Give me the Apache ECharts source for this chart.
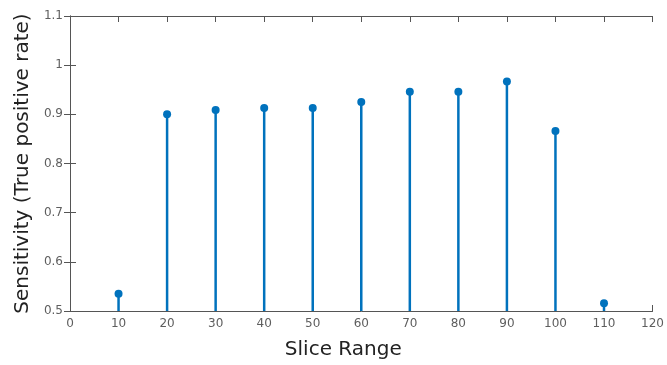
<!DOCTYPE html>
<html>
<head>
<meta charset="utf-8">
<title>Sensitivity vs slice range</title>
<script src="https://cdn.jsdelivr.net/npm/echarts@6/dist/echarts.min.js"></script>
<style>
  html, body { margin: 0; padding: 0; background: #fff; }
  #main { width: 667px; height: 365px; }
</style>
</head>
<body>
<div id="main"></div>
<script>
// stem data
var sliceRange = [10, 20, 30, 40, 50, 60, 70, 80, 90, 100, 110];
var sensitivity = [0.535, 0.900, 0.909, 0.913, 0.913, 0.925, 0.946, 0.946, 0.967, 0.866, 0.516];
var yBase = 0.5;

var stemColor = '#0072BD';
var axisGray = '#555555';
var labelGray = '#5e5e5e';
var font = 'DejaVu Sans';

var points = sliceRange.map(function (x, i) { return [x, sensitivity[i]]; });

var chart = echarts.init(document.getElementById('main'));

var tick = { show: true, inside: true, length: 6, lineStyle: { color: axisGray } };

chart.setOption({
    animation: false,
    grid: { left: 70, right: 14, top: 16, bottom: 52 },
    xAxis: [{
        type: 'value', min: 0, max: 120, interval: 10,
        name: 'Slice Range', nameLocation: 'middle', nameGap: 29,
        nameTextStyle: { fontFamily: font, fontSize: 20, color: '#222', padding: [0, 36, 0, 0] },
        axisLine: { show: true, lineStyle: { color: axisGray, width: 1 } },
        axisTick: tick,
        axisLabel: { fontFamily: font, fontSize: 12, color: labelGray, margin: 7 },
        splitLine: { show: false }
    }, {
        type: 'value', position: 'top', min: 0, max: 120, interval: 10,
        axisLine: { show: true, lineStyle: { color: axisGray, width: 1 } },
        axisTick: tick, axisLabel: { show: false }, splitLine: { show: false }
    }],
    yAxis: [{
        type: 'value', min: 0.5, max: 1.1, interval: 0.1,
        name: 'Sensitivity (True positive rate)', nameLocation: 'middle', nameGap: 31,
        nameTextStyle: { fontFamily: font, fontSize: 20, color: '#222' },
        axisLine: { show: true, lineStyle: { color: axisGray, width: 1 } },
        axisTick: tick,
        axisLabel: { fontFamily: font, fontSize: 12, color: labelGray, margin: 7,
            formatter: function (v) { return String(Math.round(v * 10) / 10); } },
        splitLine: { show: false }
    }, {
        type: 'value', position: 'right', min: 0.5, max: 1.1, interval: 0.1,
        axisLine: { show: true, lineStyle: { color: axisGray, width: 1 } },
        axisTick: tick, axisLabel: { show: false }, splitLine: { show: false }
    }],
    series: [{
        type: 'custom',
        data: points,
        renderItem: function (params, api) {
            var top = api.coord([api.value(0), api.value(1)]);
            var bot = api.coord([api.value(0), yBase]);
            return {
                type: 'line',
                shape: { x1: top[0], y1: top[1], x2: bot[0], y2: bot[1] },
                style: { stroke: stemColor, lineWidth: 2.5 }
            };
        },
        z: 2
    }, {
        type: 'scatter',
        data: points,
        symbol: 'circle',
        symbolSize: 8,
        itemStyle: { color: stemColor, opacity: 1 },
        z: 3
    }]
});
</script>
</body>
</html>
